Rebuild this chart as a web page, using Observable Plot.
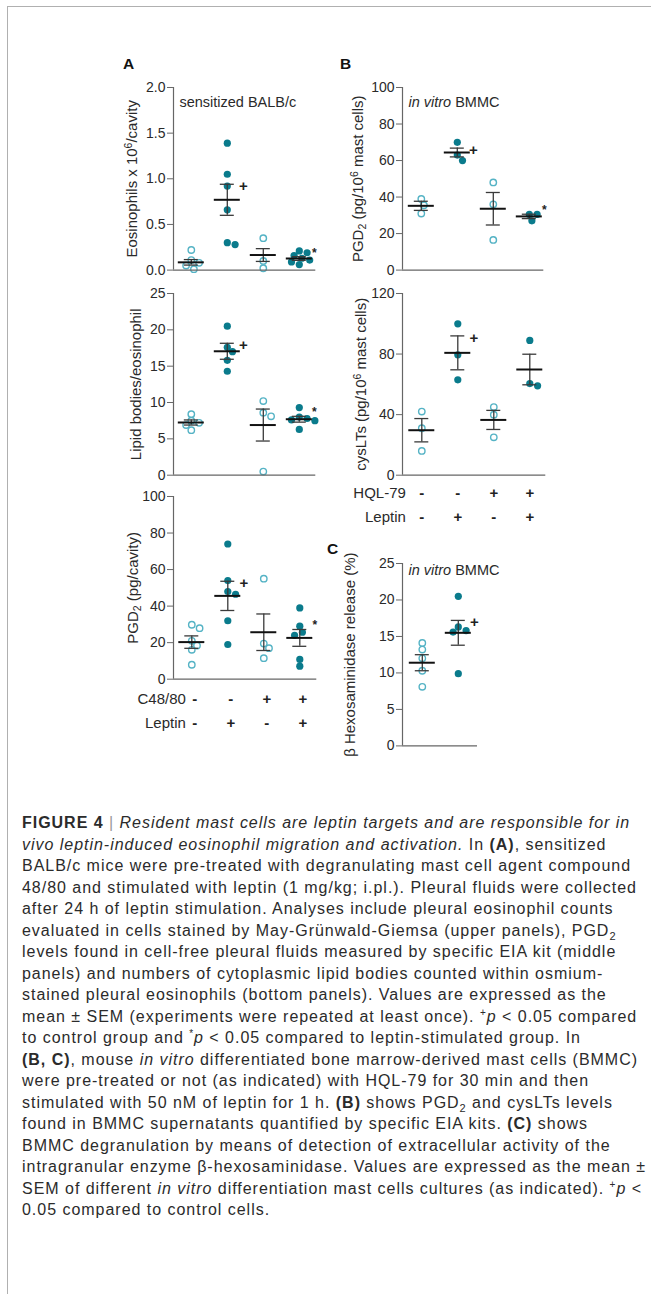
<!DOCTYPE html>
<html><head><meta charset="utf-8">
<script src="https://cdn.jsdelivr.net/npm/d3@7"></script>
<script src="https://cdn.jsdelivr.net/npm/@observablehq/plot@0.6"></script>
<style>
body{margin:0;background:#fff;}
#page{position:relative;width:651px;height:1294px;overflow:hidden;background:#fff;font-family:"Liberation Sans",Arial,sans-serif;color:#222;}
#border{position:absolute;left:7px;top:6px;width:800px;height:1400px;border-top:1px solid #b0b0b0;border-left:1px solid #b0b0b0;}
.plot{position:absolute;}
.letter{position:absolute;font-weight:bold;font-size:15.5px;line-height:15.5px;color:#111;}
#caption{position:absolute;left:22px;top:812px;font-size:16px;line-height:21.5px;color:#2b2b2b;white-space:nowrap;}
#caption .bar{color:#999;}
</style></head>
<body>
<div id="page">
  <div id="border"></div>
  <div class="letter" style="left:123px;top:56px;">A</div>
  <div class="letter" style="left:340px;top:56px;">B</div>
  <div class="letter" style="left:327px;top:541px;">C</div>
  <div id="caption">
    <div><b>FIGURE 4</b> <span class="bar">|</span> <i>Resident mast cells are leptin targets and are responsible for in</i></div>
    <div><i>vivo leptin-induced eosinophil migration and activation.</i> In <b>(A)</b>, sensitized</div>
    <div>BALB/c mice were pre-treated with degranulating mast cell agent compound</div>
    <div id="fitline">48/80 and stimulated with leptin (1 mg/kg; i.pl.). Pleural fluids were collected</div>
    <div>after 24 h of leptin stimulation. Analyses include pleural eosinophil counts</div>
    <div>evaluated in cells stained by May-Grünwald-Giemsa (upper panels), PGD<sub style="font-size:11px;line-height:0">2</sub></div>
    <div>levels found in cell-free pleural fluids measured by specific EIA kit (middle</div>
    <div>panels) and numbers of cytoplasmic lipid bodies counted within osmium-</div>
    <div>stained pleural eosinophils (bottom panels). Values are expressed as the</div>
    <div>mean ± SEM (experiments were repeated at least once). <sup style="font-size:10px;line-height:0">+</sup><i>p</i> &lt; 0.05 compared</div>
    <div>to control group and <sup style="font-size:10px;line-height:0">*</sup><i>p</i> &lt; 0.05 compared to leptin-stimulated group. In</div>
    <div><b>(B, C)</b>, mouse <i>in vitro</i> differentiated bone marrow-derived mast cells (BMMC)</div>
    <div>were pre-treated or not (as indicated) with HQL-79 for 30 min and then</div>
    <div>stimulated with 50 nM of leptin for 1 h. <b>(B)</b> shows PGD<sub style="font-size:11px;line-height:0">2</sub> and cysLTs levels</div>
    <div>found in BMMC supernatants quantified by specific EIA kits. <b>(C)</b> shows</div>
    <div>BMMC degranulation by means of detection of extracellular activity of the</div>
    <div>intragranular enzyme β-hexosaminidase. Values are expressed as the mean ±</div>
    <div>SEM of different <i>in vitro</i> differentiation mast cells cultures (as indicated). <sup style="font-size:10px;line-height:0">+</sup><i>p</i> &lt;</div>
    <div>0.05 compared to control cells.</div>
  </div>
</div>
<script>
// ---------------- DATA ----------------
// Panel A, top: Eosinophils x 10^6/cavity
const eosValues = [[0.22, 0.11, 0.08, 0.05, 0.01], [1.39, 1.05, 0.92, 0.66, 0.30, 0.28], [0.35, 0.10, 0.02], [0.21, 0.19, 0.16, 0.13, 0.11, 0.09, 0.06]];
const eosMeans = [0.085, 0.77, 0.165, 0.127];
const eosSems = [0.03, 0.17, 0.07, 0.02];
const eosSig = ["", "+", "", "*"];
// Panel A, middle: Lipid bodies/eosinophil
const lbValues = [[8.4, 7.5, 7.2, 6.9, 6.2], [20.5, 17.6, 17.0, 15.8, 14.3], [10.2, 8.6, 8.1, 0.5], [9.3, 8.0, 7.8, 7.6, 7.5, 6.3]];
const lbMeans = [7.25, 17.05, 6.9, 7.7];
const lbSems = [0.35, 1.1, 2.2, 0.4];
const lbSig = ["", "+", "", "*"];
// Panel A, bottom: PGD2 (pg/cavity)
const pgdVivoValues = [[29.8, 27.9, 21.0, 18.4, 16.1, 7.9], [74, 54, 48, 46.5, 32, 19], [55, 19.5, 17, 11.5], [39, 29, 25.7, 24, 10.8, 7.1]];
const pgdVivoMeans = [20.3, 45.6, 25.7, 22.6];
const pgdVivoSems = [3.4, 8.0, 10.0, 4.6];
const pgdVivoSig = ["", "+", "", "*"];
// Panel B, top: PGD2 (pg/10^6 mast cells)
const pgdVitroValues = [[39, 35.5, 31], [70, 63, 60], [48, 36, 16.5], [30.5, 30.5, 27]];
const pgdVitroMeans = [35.2, 64.4, 33.6, 29.4];
const pgdVitroSems = [2.5, 2.4, 8.9, 1.2];
const pgdVitroSig = ["", "+", "", "*"];
// Panel B, bottom: cysLTs (pg/10^6 mast cells)
const cysValues = [[42, 31, 16], [100, 79.5, 63], [45, 40, 25], [89, 60.5, 59]];
const cysMeans = [29.7, 80.8, 36.5, 69.8];
const cysSems = [7.7, 11.2, 6.3, 10.1];
const cysSig = ["", "+", "", ""];
// Panel C: beta-hexosaminidase release (%)
const hexValues = [[14.1, 13.2, 12.0, 10.3, 8.1], [20.5, 16.3, 15.8, 15.6, 9.9]];
const hexMeans = [11.4, 15.5];
const hexSems = [1.1, 1.7];
const hexSig = ["", "+"];
// treatment tables
const c4880Signs = ["-", "-", "+", "+"];
const hqlSigns = ["-", "-", "+", "+"];
const leptinSigns4 = ["-", "+", "-", "+"];
const leptinSigns2 = ["-", "+"];

// ---------------- LAYOUT / STYLE ----------------
const PX = 36, R = 3.6;
const FILLED = "#0a7b8c", OPEN = "#55b3c5", AXIS = "#666";
const mL = 75, mR = 12, mT = 12, mB = 12;
const FONT = "'Liberation Sans', Arial, sans-serif";
const page = document.getElementById("page");

function swarm(vals, pxPerY) {
  const placed = [];
  return vals.map(v => {
    const y = v * pxPerY;
    const cands = [0];
    for (let k = 1; k < 12; k++) cands.push(k * 2.6, -k * 2.6);
    for (const dx of cands) {
      if (placed.every(p => Math.hypot(p.x - dx, p.y - y) >= 2 * R * 0.9)) { placed.push({x: dx, y}); return dx; }
    }
    return 0;
  });
}

function geometry(c) {
  const width = mL + (c.frameRight - c.frameLeft) + mR;
  const xmin = 1 - (c.cat1X - c.frameLeft) / PX;
  const xmax = 1 + (c.frameRight - c.cat1X) / PX;
  return {width, xmin, xmax, left: c.frameLeft - mL};
}

function place(svg, left, top) {
  const d = document.createElement("div");
  d.className = "plot";
  d.style.left = left + "px";
  d.style.top = top + "px";
  d.appendChild(svg);
  page.appendChild(d);
  richify(svg);
}

function makePanel(c) {
  const g = geometry(c);
  const fh = c.frameBottom - c.frameTop;
  const height = mT + fh + mB;
  const pxPerY = fh / (c.yDomain[1] - c.yDomain[0]);
  const pts = [];
  c.values.forEach((vals, i) => {
    const offs = swarm(vals, pxPerY);
    vals.forEach((v, j) => pts.push({v, x: i + 1 + offs[j] / PX, filled: c.leptin[i] === "+"}));
  });
  const stats = c.means.map((m, i) => ({g: i + 1, m, s: c.sems[i], sig: c.sig[i]}));
  const hw = 13 / PX, cw = 7 / PX;
  const svg = Plot.plot({
    width: g.width, height, marginLeft: mL, marginRight: mR, marginTop: mT, marginBottom: mB,
    style: {background: "none", overflow: "visible", fontFamily: FONT, color: "#2a2a2a"},
    x: {domain: [g.xmin, g.xmax], axis: null},
    y: {domain: c.yDomain},
    marks: [
      Plot.dot(pts.filter(d => d.filled), {x: "x", y: "v", r: R, fill: FILLED}),
      Plot.dot(pts.filter(d => !d.filled), {x: "x", y: "v", r: R - 0.4, stroke: OPEN, strokeWidth: 1.4, fill: "none"}),
      Plot.ruleX(stats, {x: "g", y1: d => d.m - d.s, y2: d => d.m + d.s, stroke: "#3a3a3a", strokeWidth: 1.3}),
      Plot.ruleY(stats, {y: d => d.m + d.s, x1: d => d.g - cw, x2: d => d.g + cw, stroke: "#3a3a3a", strokeWidth: 1.3}),
      Plot.ruleY(stats, {y: d => d.m - d.s, x1: d => d.g - cw, x2: d => d.g + cw, stroke: "#3a3a3a", strokeWidth: 1.3}),
      Plot.ruleY(stats, {y: "m", x1: d => d.g - hw, x2: d => d.g + hw, stroke: "#111", strokeWidth: 2}),
      Plot.text(stats.filter(d => d.sig === "+"), {x: "g", y: d => d.m + d.s, text: "sig", dx: 16, dy: 2, fontSize: 15, fontWeight: "bold", fill: "#222"}),
      Plot.text(stats.filter(d => d.sig === "*"), {x: "g", y: d => d.m + d.s, text: "sig", dx: 15, dy: -4, fontSize: 12, fontWeight: "bold", fill: "#222"}),
      Plot.ruleX([g.xmin], {stroke: AXIS, strokeWidth: 1.2}),
      Plot.ruleY([c.yDomain[0]], {stroke: AXIS, strokeWidth: 1.2}),
      Plot.axisY({ticks: c.yTicks, tickFormat: c.yFormat, tickSize: 6, tickPadding: 2, fontSize: 14, stroke: AXIS, label: null}),
      Plot.text([c.yLabel], {frameAnchor: "left", dx: c.labelDx, rotate: -90, textAnchor: "middle", lineAnchor: "middle", fontSize: 15, text: d => d, fill: "#2a2a2a"}),
      c.note ? Plot.text([c.note], {frameAnchor: "top-left", dx: 6, dy: c.noteDy, textAnchor: "start", lineAnchor: "middle", fontSize: 14.5, text: d => d, fill: "#2a2a2a"}) : null
    ]
  });
  place(svg, g.left, c.frameTop - mT);
}

function makeRows(c, rows, rowYs, labelEnd, signDx) {
  const g = geometry(c);
  const top = rowYs[0] - 14;
  const height = rowYs[rowYs.length - 1] - top + 14;
  const cells = rows.flatMap(r => r.signs.map((s, i) => ({g: i + 1, row: r.name, s})));
  const svg = Plot.plot({
    width: g.width, height, marginLeft: mL, marginRight: mR, marginTop: 0, marginBottom: 0,
    style: {background: "none", overflow: "visible", fontFamily: FONT, color: "#2a2a2a"},
    x: {domain: [g.xmin, g.xmax], axis: null},
    y: {type: "point", domain: rows.map(r => r.name), range: rowYs.map(y => y - top), padding: 0, axis: null},
    marks: [
      Plot.text(rows, {y: "name", text: "name", frameAnchor: "left", dx: labelEnd - c.frameLeft, textAnchor: "end", lineAnchor: "middle", fontSize: 15, fill: "#2a2a2a"}),
      Plot.text(cells, {x: "g", y: "row", text: "s", dx: signDx, fontSize: 15, fontWeight: "bold", fill: "#222"})
    ]
  });
  place(svg, g.left, top);
}

function richify(root) {
  root.querySelectorAll("text").forEach(t => {
    const s = t.textContent;
    if (!/\{(\^|_|i:)/.test(s)) return;
    const parts = s.split(/(\{(?:\^|_|i:)[^}]*\})/);
    while (t.firstChild) t.removeChild(t.firstChild);
    let shift = 0;
    for (const p of parts) {
      if (!p) continue;
      const ts = document.createElementNS("http://www.w3.org/2000/svg", "tspan");
      let m;
      if ((m = p.match(/^\{\^(.*)\}$/))) { ts.textContent = m[1]; ts.setAttribute("dy", -5); ts.setAttribute("font-size", "70%"); shift = 5; }
      else if ((m = p.match(/^\{_(.*)\}$/))) { ts.textContent = m[1]; ts.setAttribute("dy", 3); ts.setAttribute("font-size", "70%"); shift = -3; }
      else if ((m = p.match(/^\{i:(.*)\}$/))) { ts.textContent = m[1]; ts.setAttribute("font-style", "italic"); if (shift) { ts.setAttribute("dy", shift); shift = 0; } }
      else { ts.textContent = p; if (shift) { ts.setAttribute("dy", shift); shift = 0; } }
      t.appendChild(ts);
    }
  });
}

const A1 = {frameLeft: 172.7, frameRight: 315, frameTop: 86.7, frameBottom: 269.3, cat1X: 190.5,
  yDomain: [0, 2], yTicks: [0, 0.5, 1, 1.5, 2], yFormat: ".1f", yLabel: "Eosinophils x 10{^6}/cavity", labelDx: -41,
  values: eosValues, means: eosMeans, sems: eosSems, sig: eosSig, leptin: leptinSigns4, note: "sensitized BALB/c", noteDy: 15};
const A2 = {frameLeft: 172.7, frameRight: 315, frameTop: 293.3, frameBottom: 475, cat1X: 190.5,
  yDomain: [0, 25], yTicks: [0, 5, 10, 15, 20, 25], yFormat: "d", yLabel: "Lipid bodies/eosinophil", labelDx: -37,
  values: lbValues, means: lbMeans, sems: lbSems, sig: lbSig, leptin: leptinSigns4};
const A3 = {frameLeft: 172.7, frameRight: 316, frameTop: 496, frameBottom: 678.7, cat1X: 191,
  yDomain: [0, 100], yTicks: [0, 20, 40, 60, 80, 100], yFormat: "d", yLabel: "PGD{_2} (pg/cavity)", labelDx: -40,
  values: pgdVivoValues, means: pgdVivoMeans, sems: pgdVivoSems, sig: pgdVivoSig, leptin: leptinSigns4};
const B1 = {frameLeft: 401.7, frameRight: 543, frameTop: 86.7, frameBottom: 269.3, cat1X: 420.5,
  yDomain: [0, 100], yTicks: [0, 20, 40, 60, 80, 100], yFormat: "d", yLabel: "PGD{_2} (pg/10{^6} mast cells)", labelDx: -44,
  values: pgdVitroValues, means: pgdVitroMeans, sems: pgdVitroSems, sig: pgdVitroSig, leptin: leptinSigns4, note: "{i:in vitro} BMMC", noteDy: 15};
const B2 = {frameLeft: 401.7, frameRight: 545, frameTop: 293.3, frameBottom: 475, cat1X: 421,
  yDomain: [0, 120], yTicks: [0, 40, 80, 120], yFormat: "d", yLabel: "cysLTs (pg/10{^6} mast cells)", labelDx: -41,
  values: cysValues, means: cysMeans, sems: cysSems, sig: cysSig, leptin: leptinSigns4};
const C1 = {frameLeft: 401.7, frameRight: 476.7, frameTop: 563.3, frameBottom: 745.7, cat1X: 421.5,
  yDomain: [0, 25], yTicks: [0, 5, 10, 15, 20, 25], yFormat: "d", yLabel: "β Hexosaminidase release (%)", labelDx: -52,
  values: hexValues, means: hexMeans, sems: hexSems, sig: hexSig, leptin: leptinSigns2, note: "{i:in vitro} BMMC", noteDy: 7};

[A1, A2, A3, B1, B2, C1].forEach(makePanel);
makeRows(A3, [{name: "C48/80", signs: c4880Signs}, {name: "Leptin", signs: leptinSigns4}], [699.3, 723.3], 185, 3);
makeRows(B2, [{name: "HQL-79", signs: hqlSigns}, {name: "Leptin", signs: leptinSigns4}], [493.3, 518.3], 405, 0);
makeRows(C1, [{name: "Leptin", signs: leptinSigns2}], [765], 400, 0);

// caption: fit letter spacing so the reference line spans 22 -> 637 px
const cap = document.getElementById("caption");
const fit = document.getElementById("fitline");
fit.style.display = "inline-block";
const natural = fit.getBoundingClientRect().width;
fit.style.display = "";
const n = fit.textContent.length;
cap.style.letterSpacing = ((615 - natural) / n).toFixed(3) + "px";
</script>
</body></html>
